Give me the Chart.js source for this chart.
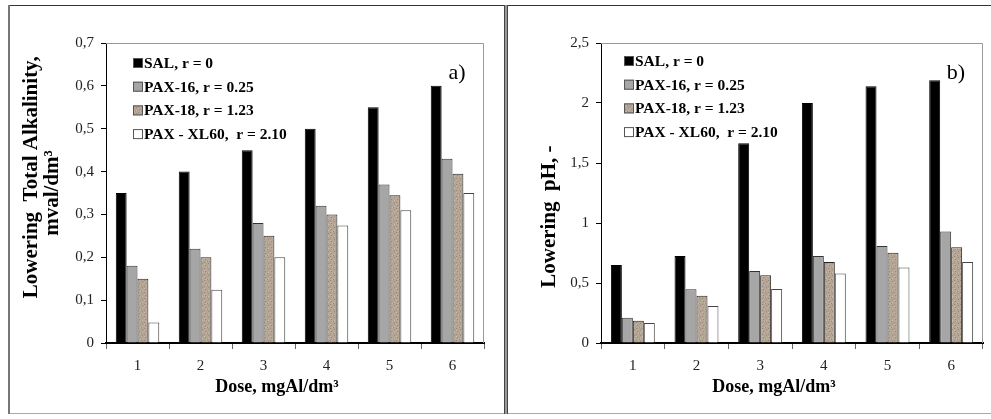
<!DOCTYPE html>
<html>
<head>
<meta charset="utf-8">
<script src="https://cdn.jsdelivr.net/npm/chart.js@4.4.1/dist/chart.umd.min.js"></script>
<style>
body { margin: 0; background: #fff; width: 991px; height: 419px; overflow: hidden; position: relative; }
.panel { position: absolute; top: 5px; height: 408px; }
#leftPanel { left: 9px; width: 496px; }
#rightPanel { left: 507px; width: 484px; }
.frameTop { position: absolute; top: 5px; left: 8px; width: 983px; height: 1px; background: #333; }
.frameBottom { position: absolute; top: 413px; left: 8px; width: 983px; height: 1px; background: #aaa; }
.frameLeft { position: absolute; top: 5px; left: 8px; width: 2px; height: 409px; background: #777; }
.sep { position: absolute; top: 5px; left: 504px; width: 2px; height: 409px; background: #999; border-left: 1px solid #444; border-right: 1px solid #444; }
</style>
</head>
<body>
<div class="frameTop"></div>
<div class="frameBottom"></div>
<div class="frameLeft"></div>
<div class="sep"></div>
<div class="panel" id="leftPanel"><canvas id="alkalinityChart"></canvas></div>
<div class="panel" id="rightPanel"><canvas id="phChart"></canvas></div>
<script>
var doses = ["1", "2", "3", "4", "5", "6"];
var seriesNames = ["SAL, r = 0", "PAX-16, r = 0.25", "PAX-18, r = 1.23", "PAX - XL60,  r = 2.10"];

// a) lowering total alkalinity, mval/dm3
var alkSAL   = [0.35, 0.40, 0.45, 0.50, 0.55, 0.60];
var alkPAX16 = [0.18, 0.22, 0.28, 0.32, 0.37, 0.43];
var alkPAX18 = [0.15, 0.20, 0.25, 0.30, 0.345, 0.395];
var alkXL60  = [0.048, 0.124, 0.20, 0.274, 0.31, 0.35];

// b) lowering pH
var phSAL   = [0.65, 0.725, 1.665, 2.0, 2.14, 2.19];
var phPAX16 = [0.21, 0.447, 0.60, 0.725, 0.808, 0.93];
var phPAX18 = [0.186, 0.394, 0.564, 0.675, 0.753, 0.797];
var phXL60  = [0.167, 0.308, 0.45, 0.58, 0.63, 0.675];

Chart.defaults.font.family = "'Liberation Serif', 'Times New Roman', serif";
Chart.defaults.color = '#222';

var sp = '\u00a0';
function pad(n) { return new Array(n + 1).join(sp); }

// speckled brown fill like the original
function makeSpeckle() {
  var c = document.createElement('canvas');
  c.width = 6; c.height = 6;
  var g = c.getContext('2d');
  g.fillStyle = '#b4a595';
  g.fillRect(0, 0, 6, 6);
  g.fillStyle = '#9a8a7a';
  g.fillRect(1, 0, 1, 1); g.fillRect(4, 2, 1, 1); g.fillRect(0, 4, 1, 1); g.fillRect(3, 5, 1, 1);
  g.fillStyle = '#c9bcae';
  g.fillRect(3, 1, 1, 1); g.fillRect(1, 3, 1, 1); g.fillRect(5, 4, 1, 1);
  return g.createPattern(c, 'repeat');
}
var speckle = makeSpeckle();
var fills = ['#000000', '#a6a6a6', speckle, '#ffffff'];
var edges = ['#000000', '#333333', '#222222', '#444444'];

var framePlugin = {
  id: 'framePlugin',
  afterDraw: function (chart, args, opts) {
    var ctx = chart.ctx, a = chart.chartArea;
    ctx.save();
    ctx.strokeStyle = '#999';
    ctx.lineWidth = 1;
    ctx.beginPath();
    ctx.moveTo(a.left, a.top + 0.5);
    ctx.lineTo(a.right - 0.5, a.top + 0.5);
    ctx.lineTo(a.right - 0.5, a.bottom);
    ctx.stroke();
    // legend inside the plot
    ctx.font = "bold 15.5px 'Liberation Serif', serif";
    ctx.textBaseline = 'middle';
    chart.data.datasets.forEach(function (ds, i) {
      var y = a.top + opts.legendTop + i * 23.7;
      var x = a.left + opts.legendLeft;
      ctx.fillStyle = ds.backgroundColor;
      ctx.fillRect(x, y - 5, 10, 10);
      ctx.strokeStyle = '#555';
      ctx.strokeRect(x + 0.5, y - 4.5, 9, 9);
      ctx.fillStyle = '#000';
      ctx.fillText(ds.label, x + 11, y + 1);
    });
    ctx.font = "22px 'Liberation Serif', serif";
    ctx.textAlign = 'center';
    ctx.fillText(opts.tag, a.right - 27, a.top + 30);
    ctx.restore();
  }
};

function makeChart(canvasId, data, yMax, yStep, yTitle, yTitlePad, axisWidth, rightPad, tag, legendTop, legendLeft) {
  var datasets = data.map(function (vals, i) {
    return {
      label: seriesNames[i],
      data: vals,
      backgroundColor: fills[i],
      borderColor: edges[i],
      borderWidth: 1
    };
  });
  return new Chart(document.getElementById(canvasId), {
    type: 'bar',
    data: { labels: doses, datasets: datasets },
    options: {
      responsive: true,
      maintainAspectRatio: false,
      animation: false,
      layout: { padding: { top: 38, right: rightPad, left: 0, bottom: 0 } },
      datasets: { bar: { categoryPercentage: 0.69, barPercentage: 1.0 } },
      plugins: {
        legend: { display: false },
        tooltip: { enabled: false },
        framePlugin: { tag: tag, legendTop: legendTop, legendLeft: legendLeft }
      },
      scales: {
        x: {
          afterFit: function (s) { s.height = 70; },
          grid: { drawOnChartArea: false, tickLength: 6, color: '#666' },
          border: { color: '#000', width: 2 },
          ticks: { font: { size: 15 }, color: '#222', padding: 8 },
          title: {
            display: true,
            text: 'Dose, mgAl/dm³' + pad(8),
            font: { size: 18, weight: 'bold' },
            color: '#000',
            padding: { top: 0, bottom: 15 }
          }
        },
        y: {
          min: 0,
          max: yMax,
          afterFit: function (s) { s.width = axisWidth; },
          grid: { drawOnChartArea: false, tickLength: 5, color: '#000' },
          border: { color: '#000', width: 1 },
          ticks: {
            stepSize: yStep,
            font: { size: 15 },
            color: '#222',
            padding: 7,
            callback: function (v) { return String(Math.round(v * 10) / 10).replace('.', ','); }
          },
          title: {
            display: true,
            text: yTitle,
            font: { size: 21, weight: 'bold', lineHeight: 1.0 },
            color: '#000',
            padding: { top: yTitlePad, bottom: 0 }
          }
        }
      }
    },
    plugins: [framePlugin]
  });
}

makeChart('alkalinityChart', [alkSAL, alkPAX16, alkPAX18, alkXL60], 0.7, 0.1,
  [pad(6) + 'Lowering  Total Alkalinity,', 'mval/dm³'], 12, 97, 21, 'a)', 20, 27);
makeChart('phChart', [phSAL, phPAX16, phPAX18, phXL60], 2.5, 0.5,
  'Lowering  pH, -' + pad(9), 32, 94, 8, 'b)', 18, 23);
</script>
</body>
</html>
